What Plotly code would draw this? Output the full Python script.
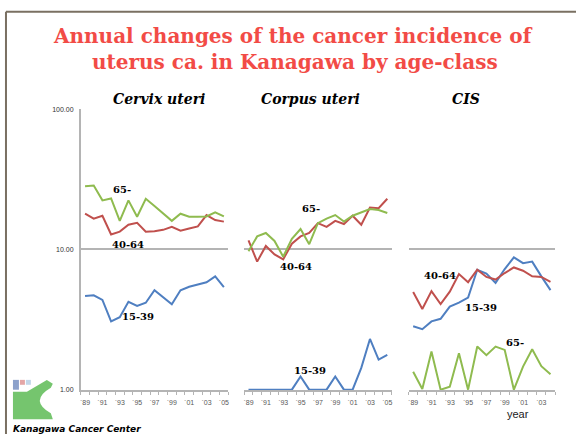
import plotly.graph_objects as go

W, H = 577, 437

years_17 = list(range(1989, 2006))
years_16 = list(range(1989, 2005))
tick_years_17 = list(range(1989, 2006, 2))
tick_years_16 = list(range(1989, 2004, 2))
tick_text_17 = ["`%02d" % (y % 100) for y in tick_years_17]
tick_text_16 = ["`%02d" % (y % 100) for y in tick_years_16]

# Cervix uteri
cervix_15_39 = [4.66, 4.71, 4.37, 3.07, 3.29, 4.23, 3.95, 4.17, 5.13, 4.54, 4.06, 5.11, 5.42, 5.63, 5.84, 6.43, 5.39]
cervix_40_64 = [18.0, 16.6, 17.4, 12.8, 13.4, 15.0, 15.5, 13.4, 13.5, 13.8, 14.5, 13.6, 14.1, 14.6, 17.6, 16.2, 15.8]
cervix_65 = [28.2, 28.6, 22.4, 23.1, 16.0, 22.4, 17.1, 23.0, 20.4, 18.1, 16.0, 18.0, 17.1, 17.1, 17.2, 18.4, 17.2]

# Corpus uteri
corpus_15_39 = [1.0, 1.0, 1.0, 1.0, 1.0, 1.0, 1.24, 1.0, 1.0, 1.0, 1.24, 1.0, 1.0, 1.43, 2.30, 1.64, 1.77]
corpus_40_64 = [11.6, 8.19, 10.6, 9.23, 8.51, 11.0, 12.4, 13.1, 15.4, 14.5, 16.0, 15.2, 17.4, 15.0, 19.9, 19.7, 23.0]
corpus_65 = [9.73, 12.4, 13.1, 11.5, 8.88, 11.9, 14.0, 10.9, 15.4, 16.6, 17.6, 15.8, 17.4, 18.3, 19.4, 19.1, 18.2]

# CIS
cis_15_39 = [2.83, 2.70, 3.07, 3.20, 3.91, 4.17, 4.54, 7.17, 6.72, 5.78, 7.25, 8.79, 7.98, 8.19, 6.43, 5.13]
cis_40_64 = [4.97, 3.76, 5.05, 4.08, 5.00, 6.68, 5.84, 7.17, 6.37, 6.10, 6.79, 7.44, 7.05, 6.43, 6.37, 5.88]
cis_65 = [1.34, 1.01, 1.87, 1.0, 1.05, 1.82, 1.0, 2.03, 1.76, 2.03, 1.92, 1.0, 1.46, 1.94, 1.47, 1.29]

BLUE, RED, GREEN = "#4F7FC1", "#C0504D", "#8FBB4F"
GRID = "#B4B4B4"


def px(x):
    return x / W


def py(y):
    return 1 - y / H


fig = go.Figure()

panels = [
    (years_17, [(cervix_15_39, BLUE), (cervix_40_64, RED), (cervix_65, GREEN)], "", ""),
    (years_17, [(corpus_15_39, BLUE), (corpus_40_64, RED), (corpus_65, GREEN)], "2", "2"),
    (years_16, [(cis_15_39, BLUE), (cis_40_64, RED), (cis_65, GREEN)], "3", "3"),
]
for yrs, series, xa, ya in panels:
    for vals, col in series:
        fig.add_trace(go.Scatter(x=yrs, y=vals, mode="lines", xaxis="x" + xa, yaxis="y" + ya,
                                 line=dict(color=col, width=2), showlegend=False, hoverinfo="skip"))

ydom = [py(392.5), py(107)]
xdoms = [[px(80), px(228)], [px(244), px(392)], [px(409), px(556)]]

layout = dict(
    width=W, height=H, margin=dict(l=0, r=0, t=0, b=0),
    paper_bgcolor="white", plot_bgcolor="rgba(0,0,0,0)", showlegend=False,
)
for i, (dom, yrs) in enumerate(zip(xdoms, [years_17, years_17, years_16])):
    sfx = "" if i == 0 else str(i + 1)
    tv = tick_years_16 if i == 2 else tick_years_17
    tt = tick_text_16 if i == 2 else tick_text_17
    layout["xaxis" + sfx] = dict(
        domain=dom, anchor="y" + sfx, range=[yrs[0] - 0.5, yrs[-1] + 0.5],
        tickmode="array", tickvals=tv, ticktext=tt, ticks="", ticklabelstandoff=5,
        tickfont=dict(family="Liberation Sans, Arial", size=7, color="#595959"),
        showgrid=False, zeroline=False, showline=True, linecolor=GRID, linewidth=1.5,
        minor=dict(tick0=yrs[0] - 0.5, dtick=1, ticks="outside", ticklen=3, tickcolor=GRID, tickwidth=1, showgrid=False),
    )
    layout["yaxis" + sfx] = dict(
        domain=ydom, anchor="x" + sfx, type="log", range=[-0.004, 2.0],
        tickmode="array", tickvals=[1, 10, 100], ticktext=["1.00", "10.00", "100.00"],
        showticklabels=(i == 0), ticks="", ticklabelstandoff=4,
        tickfont=dict(family="Liberation Sans, Arial", size=7, color="#333333"),
        showgrid=True, gridcolor=GRID, gridwidth=1.5, zeroline=False,
        showline=(i == 0), linecolor=GRID, linewidth=1.5,
    )
fig.update_layout(**layout)

TITLE_RED = "#F24B46"
SERIF = "DejaVu Serif"
ann = []


def add_text(text, x, y, size, color="black", family=SERIF, xanchor="center"):
    ann.append(dict(text=text, x=px(x), y=py(y), xref="paper", yref="paper", showarrow=False,
                    xanchor=xanchor, yanchor="middle", font=dict(family=family, size=size, color=color)))


add_text("<b>Annual changes of the cancer incidence of</b>", 293, 33, 20, TITLE_RED)
add_text("<b>uterus ca. in Kanagawa by age-class</b>", 295, 59, 20, TITLE_RED)
add_text("<b><i>Cervix uteri</i></b>", 159, 97, 14)
add_text("<b><i>Corpus uteri</i></b>", 311, 97, 14)
add_text("<b><i>CIS</i></b>", 467, 97, 14)
for t, x, y in [("65-", 121, 189), ("40-64", 127, 244), ("15-39", 137, 318),
                ("65-", 311, 208), ("40-64", 296, 267), ("15-39", 310, 372),
                ("40-64", 441, 276), ("15-39", 482, 308), ("65-", 516, 344)]:
    add_text("<b>" + t + "</b>", x, y, 10)
add_text("year", 519, 417, 11, "#222222", "Liberation Sans, Arial")
add_text("<b><i>Kanagawa Cancer Center</i></b>", 10, 432, 9, "black", "DejaVu Sans", xanchor="left")
fig.update_layout(annotations=ann)

FRAME = "#7A7062"
shapes = [
    dict(type="line", xref="paper", yref="paper", x0=px(5), x1=px(5), y0=py(8), y1=py(437),
         line=dict(color=FRAME, width=2)),
    dict(type="line", xref="paper", yref="paper", x0=px(5), x1=px(577), y0=py(8), y1=py(8),
         line=dict(color=FRAME, width=2)),
]


def P(a, b):
    return "%f,%f" % (px(a), py(b))


# logo (decorative)
path = ("M " + P(12, 394) + " L " + P(26, 394) + " L " + P(46, 382) + " L " + P(52, 386) +
        " L " + P(50, 390) + " Q " + P(28, 403) + " " + P(50, 416) + " L " + P(52, 422) +
        " L " + P(12, 422) + " Z")
shapes.append(dict(type="path", xref="paper", yref="paper", path=path,
                   fillcolor="#5DBB55", line=dict(width=0), opacity=0.85))
for (x0, y0, x1, y1, c) in [(12, 382, 18, 392, "#5B79B5"), (19, 382, 24, 387, "#D98080"),
                            (25, 382, 30, 387, "#A8C4E0")]:
    shapes.append(dict(type="rect", xref="paper", yref="paper", x0=px(x0), x1=px(x1), y0=py(y1), y1=py(y0),
                       fillcolor=c, line=dict(width=0), opacity=0.7))
fig.update_layout(shapes=shapes)

fig.write_html("out.html", config={"displayModeBar": False},
               post_script="document.body.style.margin='0';document.body.style.overflow='hidden';")
